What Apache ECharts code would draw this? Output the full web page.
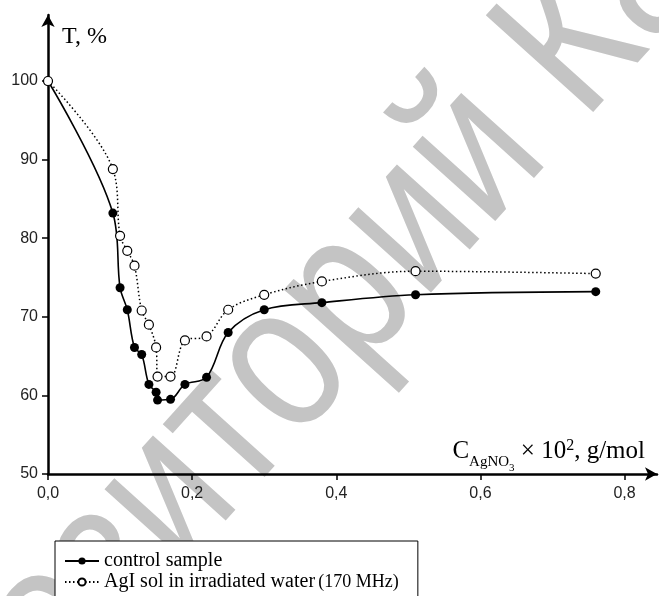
<!DOCTYPE html>
<html>
<head>
<meta charset="utf-8">
<script src="https://cdn.jsdelivr.net/npm/echarts@6/dist/echarts.min.js"></script>
<style>
html,body{margin:0;padding:0;background:#fff;}
#chart{width:659px;height:596px;}
</style>
</head>
<body>
<div id="chart"></div>
<script>
// Data
const xControl = [0, 0.09, 0.10, 0.11, 0.12, 0.13, 0.14, 0.150, 0.152, 0.17, 0.19, 0.22, 0.25, 0.30, 0.38, 0.51, 0.76];
const tControl = [100, 83.2, 73.7, 70.9, 66.1, 65.2, 61.4, 60.4, 59.4, 59.5, 61.4, 62.3, 68.0, 70.9, 71.8, 72.8, 73.2];
const xAgI = [0, 0.09, 0.10, 0.11, 0.12, 0.13, 0.14, 0.15, 0.152, 0.17, 0.19, 0.22, 0.25, 0.30, 0.38, 0.51, 0.76];
const tAgI = [100, 88.8, 80.3, 78.4, 76.5, 70.8, 69.0, 66.1, 62.4, 62.4, 67.0, 67.5, 70.9, 72.8, 74.5, 75.8, 75.5];
const xTicks = [0, 0.2, 0.4, 0.6, 0.8];
const yTicks = [50, 60, 70, 80, 90, 100];
const seriesNames = ['control sample', 'AgI sol in irradiated water'];

const chart = echarts.init(document.getElementById('chart'), null, {renderer: 'canvas'});
const pair = (xs, ys) => xs.map((x, i) => [x, ys[i]]);

const serif = '"Liberation Serif", "Times New Roman", serif';
const sans = '"Liberation Sans", Arial, sans-serif';

const deg = 48 * Math.PI / 180;

chart.setOption({
  animation: false,
  backgroundColor: '#fff',
  graphic: [{
    type: 'text',
    z: -100,
    silent: true,
    x: -178, y: 882,
    rotation: deg,
    scaleX: 0.82,
    style: {
      text: 'Репозиторий КарГУ',
      font: '210px "Liberation Sans", Arial, sans-serif',
      fill: '#c4c4c4',
      align: 'left',
      verticalAlign: 'middle'
    }
  }],
  grid: {left: 48, top: 15, right: 2, bottom: 122, containLabel: false},
  xAxis: {
    type: 'value', min: 0, max: 0.845,
    name: '{c|C}{s|AgNO}{ss|3}{m| × 10}{sup|2}{m|, g/mol}',
    nameLocation: 'end',
    nameGap: -12,
    nameTextStyle: {
      align: 'right', verticalAlign: 'bottom', padding: [0, 0, 10, 0],
      rich: {
        c: {fontFamily: serif, fontSize: 25, color: '#000', verticalAlign: 'bottom'},
        s: {fontFamily: serif, fontSize: 15, color: '#000', verticalAlign: 'bottom', padding: [0,0,-6,0]},
        ss: {fontFamily: serif, fontSize: 11, color: '#000', verticalAlign: 'bottom', padding: [0,0,-10,0]},
        m: {fontFamily: serif, fontSize: 25, color: '#000', verticalAlign: 'bottom'},
        sup: {fontFamily: serif, fontSize: 16, color: '#000', verticalAlign: 'bottom', padding: [0,0,10,0]}
      }
    },
    axisLine: {show: true, lineStyle: {color: '#000', width: 2.5}, symbol: ['none', 'arrow'], symbolSize: [10, 12]},
    axisTick: {show: true, inside: false, length: 6, lineStyle: {color: '#000', width: 1.5}, customValues: xTicks},
    axisLabel: {show: true, margin: 12, fontFamily: sans, fontSize: 16, color: '#222',
      customValues: xTicks,
      formatter: v => v.toFixed(1).replace('.', ',')},
    splitLine: {show: false}
  },
  yAxis: {
    type: 'value', min: 50, max: 108.4,
    name: 'T, %',
    nameLocation: 'end',
    nameGap: -10,
    nameTextStyle: {fontFamily: serif, fontSize: 24, color: '#000', align: 'left', verticalAlign: 'top', padding: [0, 0, 0, 14]},
    axisLine: {show: true, lineStyle: {color: '#000', width: 2.5}, symbol: ['none', 'arrow'], symbolSize: [10, 12]},
    axisTick: {show: true, inside: false, length: 6, lineStyle: {color: '#000', width: 1.5}, customValues: yTicks},
    axisLabel: {show: true, margin: 10, fontFamily: sans, fontSize: 16, color: '#222', customValues: yTicks},
    splitLine: {show: false}
  },
  legend: {
    show: true,
    orient: 'vertical',
    left: 55, top: 541,
    width: 400, height: 200,
    padding: [10, 19, 40, 9],
    itemGap: 1,
    itemWidth: 34, itemHeight: 9,
    borderColor: '#000', borderWidth: 1,
    backgroundColor: '#fff',
    data: seriesNames,
    formatter: name => name === seriesNames[1] ? '{a|' + name + '} {b|(170 MHz)}' : '{a|' + name + '}',
    textStyle: {
      color: '#000',
      rich: {
        a: {fontFamily: serif, fontSize: 20, color: '#000'},
        b: {fontFamily: serif, fontSize: 18, color: '#000'}
      }
    }
  },
  series: [
    {
      name: seriesNames[0], type: 'line', data: pair(xControl, tControl),
      smooth: 0.35,
      symbol: 'circle', symbolSize: 9,
      itemStyle: {color: '#000', borderColor: '#000', borderWidth: 0},
      lineStyle: {color: '#000', width: 1.6, type: 'solid'},
      z: 3
    },
    {
      name: seriesNames[1], type: 'line', data: pair(xAgI, tAgI),
      smooth: 0.35,
      symbol: 'circle', symbolSize: 9,
      itemStyle: {color: '#fff', borderColor: '#000', borderWidth: 1.2},
      lineStyle: {color: '#000', width: 1.5, type: [1.5, 2.5]},
      z: 4
    }
  ]
});
</script>
</body>
</html>
